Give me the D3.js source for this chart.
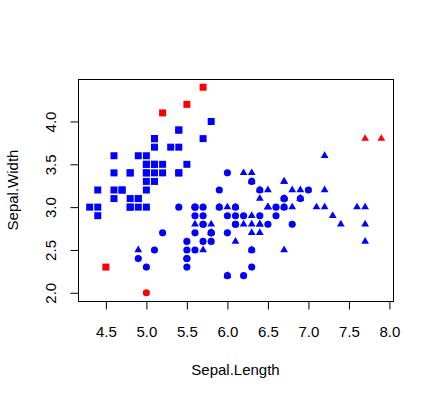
<!DOCTYPE html>
<html>
<head>
<meta charset="utf-8">
<script src="https://cdn.jsdelivr.net/npm/d3@7"></script>
<style>
  body { margin: 0; background: #fff; }
  text { font-family: "Liberation Sans", Arial, sans-serif; fill: #000; }
</style>
</head>
<body>
<div id="chart"></div>
<script>
// iris measurements, one array pair per species (row order kept so overlaps match)
var setosaLength = [5.1,4.9,4.7,4.6,5.0,5.4,4.6,5.0,4.4,4.9,5.4,4.8,4.8,4.3,5.8,5.7,5.4,5.1,5.7,5.1,
                    5.4,5.1,4.6,5.1,4.8,5.0,5.0,5.2,5.2,4.7,4.8,5.4,5.2,5.5,4.9,5.0,5.5,4.9,4.4,5.1,
                    5.0,4.5,4.4,5.0,5.1,4.8,5.1,4.6,5.3,5.0];
var setosaWidth  = [3.5,3.0,3.2,3.1,3.6,3.9,3.4,3.4,2.9,3.1,3.7,3.4,3.0,3.0,4.0,4.4,3.9,3.5,3.8,3.8,
                    3.4,3.7,3.6,3.3,3.4,3.0,3.4,3.5,3.4,3.2,3.1,3.4,4.1,4.2,3.1,3.2,3.5,3.6,3.0,3.4,
                    3.5,2.3,3.2,3.5,3.8,3.0,3.8,3.2,3.7,3.3];
var versicolorLength = [7.0,6.4,6.9,5.5,6.5,5.7,6.3,4.9,6.6,5.2,5.0,5.9,6.0,6.1,5.6,6.7,5.6,5.8,6.2,5.6,
                        5.9,6.1,6.3,6.1,6.4,6.6,6.8,6.7,6.0,5.7,5.5,5.5,5.8,6.0,5.4,6.0,6.7,6.3,5.6,5.5,
                        5.5,6.1,5.8,5.0,5.6,5.7,5.7,6.2,5.1,5.7];
var versicolorWidth  = [3.2,3.2,3.1,2.3,2.8,2.8,3.3,2.4,2.9,2.7,2.0,3.0,2.2,2.9,2.9,3.1,3.0,2.7,2.2,2.5,
                        3.2,2.8,2.5,2.8,2.9,3.0,2.8,3.0,2.9,2.6,2.4,2.4,2.7,2.7,3.0,3.4,3.1,2.3,3.0,2.5,
                        2.6,3.0,2.6,2.3,2.7,3.0,2.9,2.9,2.5,2.8];
var virginicaLength = [6.3,5.8,7.1,6.3,6.5,7.6,4.9,7.3,6.7,7.2,6.5,6.4,6.8,5.7,5.8,6.4,6.5,7.7,7.7,6.0,
                       6.9,5.6,7.7,6.3,6.7,7.2,6.2,6.1,6.4,7.2,7.4,7.9,6.4,6.3,6.1,7.7,6.3,6.4,6.0,6.9,
                       6.7,6.9,5.8,6.8,6.7,6.7,6.3,6.5,6.2,5.9];
var virginicaWidth  = [3.3,2.7,3.0,2.9,3.0,3.0,2.5,2.9,2.5,3.6,3.2,2.7,3.0,2.5,2.8,3.2,3.0,3.8,2.6,2.2,
                       3.2,2.8,2.8,2.7,3.3,3.2,2.8,3.0,2.8,3.0,2.8,3.8,2.8,2.8,2.6,3.0,3.4,3.1,3.0,3.1,
                       3.1,3.1,2.7,3.2,3.3,3.0,2.5,3.0,3.4,3.0];
// rows (1-based, whole table) drawn in red
var flaggedRows = [16, 33, 34, 42, 61, 118, 132];

var xTicks = [4.5, 5.0, 5.5, 6.0, 6.5, 7.0, 7.5, 8.0];
var yTicks = [2.0, 2.5, 3.0, 3.5, 4.0];

var width = 434, height = 399;
var margin = {top: 79, right: 41, bottom: 98, left: 78};

// build the rows in table order
var species = [
    {name: "setosa", len: setosaLength, wid: setosaWidth, shape: d3.symbolSquare, size: 49},
    {name: "versicolor", len: versicolorLength, wid: versicolorWidth, shape: d3.symbolCircle, size: 40},
    {name: "virginica", len: virginicaLength, wid: virginicaWidth, shape: d3.symbolTriangle, size: 26}
];
var rows = [];
species.forEach(function(s) {
    s.len.forEach(function(v, i) {
        rows.push({x: v, y: s.wid[i], sp: s});
    });
});
rows.forEach(function(d, i) { d.flag = flaggedRows.indexOf(i + 1) >= 0; });

// R style 4% padding on each side
var xExt = d3.extent(rows, function(d) { return d.x; });
var yExt = d3.extent(rows, function(d) { return d.y; });
var xPad = (xExt[1] - xExt[0]) * 0.04, yPad = (yExt[1] - yExt[0]) * 0.04;

var x = d3.scaleLinear()
    .domain([xExt[0] - xPad, xExt[1] + xPad])
    .range([margin.left, width - margin.right]);
var y = d3.scaleLinear()
    .domain([yExt[0] - yPad, yExt[1] + yPad])
    .range([height - margin.bottom, margin.top]);

var svg = d3.select("#chart").append("svg")
    .attr("width", width)
    .attr("height", height);

// points
svg.append("g").selectAll("path")
    .data(rows)
    .join("path")
    .attr("transform", function(d) { return "translate(" + x(d.x) + "," + y(d.y) + ")"; })
    .attr("d", function(d) { return d3.symbol().type(d.sp.shape).size(d.sp.size)(); })
    .attr("fill", function(d) { return d.flag ? "#ff0000" : "#0000ff"; });

// axes
var xAxis = svg.append("g")
    .attr("transform", "translate(0," + (height - margin.bottom + 0.5) + ")")
    .call(d3.axisBottom(x).tickValues(xTicks).tickFormat(d3.format(".1f")).tickSizeOuter(0).tickSize(8));
xAxis.select(".domain").remove();
xAxis.selectAll("text")
    .attr("y", 35).attr("dy", null)
    .style("font-size", "15px").style("font-family", "'Liberation Sans', Arial, sans-serif");

var yAxis = svg.append("g")
    .attr("transform", "translate(" + (margin.left + 0.5) + ",0)")
    .call(d3.axisLeft(y).tickValues(yTicks).tickFormat(d3.format(".1f")).tickSizeOuter(0).tickSize(8));
yAxis.select(".domain").remove();
yAxis.selectAll("text")
    .attr("x", 0).attr("y", -23).attr("dy", null)
    .attr("transform", "rotate(-90)")
    .attr("text-anchor", "middle")
    .style("font-size", "15px").style("font-family", "'Liberation Sans', Arial, sans-serif");

// box
svg.append("rect")
    .attr("x", margin.left + 0.5)
    .attr("y", margin.top + 0.5)
    .attr("width", width - margin.left - margin.right)
    .attr("height", height - margin.top - margin.bottom)
    .attr("fill", "none")
    .attr("stroke", "#000");

// axis titles
svg.append("text")
    .attr("x", (margin.left + width - margin.right) / 2)
    .attr("y", 375)
    .attr("text-anchor", "middle")
    .style("font-size", "15px")
    .text("Sepal.Length");

svg.append("text")
    .attr("transform", "translate(18," + (margin.top + height - margin.bottom) / 2 + ") rotate(-90)")
    .attr("text-anchor", "middle")
    .style("font-size", "15px")
    .text("Sepal.Width");
</script>
</body>
</html>
